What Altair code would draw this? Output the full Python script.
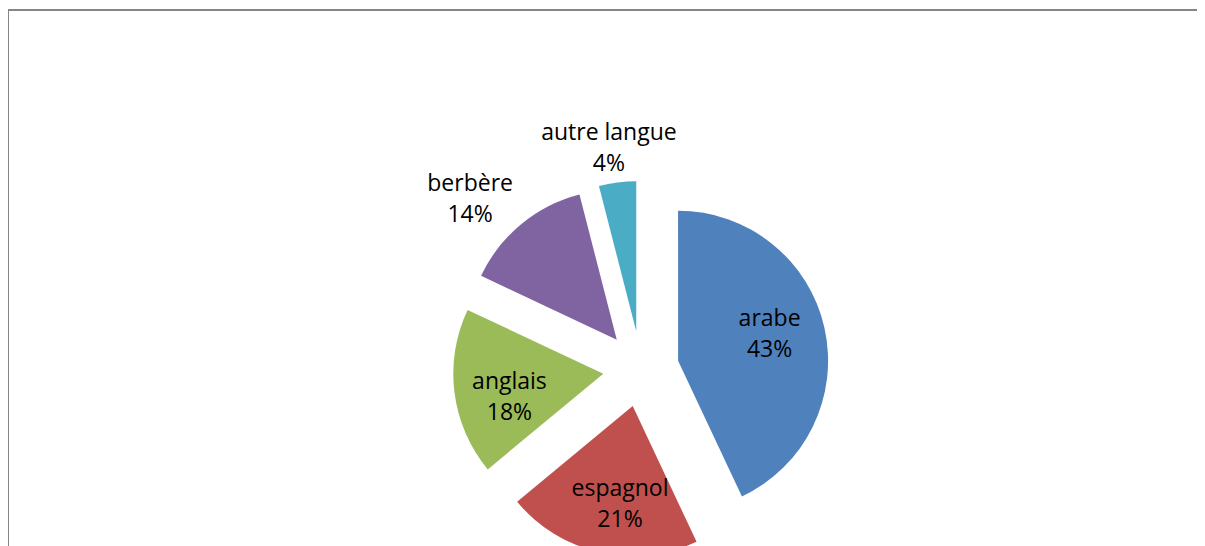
import altair as alt
import pandas as pd

langues = ["arabe", "espagnol", "anglais", "berbère", "autre langue"]
pourcentages = [43, 21, 18, 14, 4]
couleurs = ["#4F81BD", "#C0504D", "#9BBB59", "#8064A2", "#4BACC6"]

df = pd.DataFrame({"langue": langues, "pct": pourcentages, "ordre": list(range(len(langues)))})

W, H = 1189, 560
CX, CY = 633, 361
EXPLODE = 38
R = 150

base = (
    alt.Chart(df)
    .transform_joinaggregate(total="sum(pct)")
    .transform_window(cum="sum(pct)", sort=[{"field": "ordre"}], frame=[None, 0])
    .transform_calculate(t0="2*PI*(datum.cum - datum.pct)/datum.total")
    .transform_calculate(t1="2*PI*datum.cum/datum.total")
    .transform_calculate(mid="(datum.t0 + datum.t1)/2")
    .transform_calculate(sx=f"{CX} + {EXPLODE}*sin(datum.mid)")
    .transform_calculate(sy=f"{CY} - {EXPLODE}*cos(datum.mid)")
    .transform_calculate(outside="datum.pct < 15")
    .transform_calculate(
        la="datum.mid - (datum.outside ? 9.4*abs(sin(datum.mid)) : 5)*PI/180"
    )
    .transform_calculate(lr=f"datum.outside ? ({R} + 33 + 35*abs(sin(datum.mid))) : 96")
    .transform_calculate(label="datum.langue + '\\n' + datum.pct + '%'")
    .transform_calculate(lx="datum.sx + datum.lr*sin(datum.la)")
    .transform_calculate(ly="datum.sy - datum.lr*cos(datum.la)")
)

arcs = base.mark_arc(radius=R).encode(
    x=alt.X("sx:Q", scale=None, axis=None),
    y=alt.Y("sy:Q", scale=None, axis=None),
    theta=alt.Theta("t0:Q", scale=None),
    theta2=alt.Theta2("t1:Q"),
    color=alt.Color("langue:N", scale=alt.Scale(domain=langues, range=couleurs), legend=None),
)

texts = base.mark_text(
    font="Open Sans", fontSize=23, lineBreak="\n", lineHeight=31, dy=-12.5,
    color="black", align="center", baseline="middle",
).encode(
    x=alt.X("lx:Q", scale=None, axis=None),
    y=alt.Y("ly:Q", scale=None, axis=None),
    text="label:N",
)

border_top = alt.Chart(df).mark_rule(color="#868686", strokeWidth=2).encode(
    x=alt.value(0), x2=alt.value(W), y=alt.value(2)
)
border_left = alt.Chart(df).mark_rule(color="#868686", strokeWidth=2).encode(
    x=alt.value(0), y=alt.value(1), y2=alt.value(H)
)

chart = alt.layer(border_top, border_left, arcs, texts).properties(
    width=W, height=H,
    padding={"left": 0, "top": 0, "right": 0, "bottom": 0},
    autosize=alt.AutoSizeParams(type="none"),
).configure_view(stroke=None)

chart.save("out.html", embed_options={"renderer": "svg", "actions": False})
